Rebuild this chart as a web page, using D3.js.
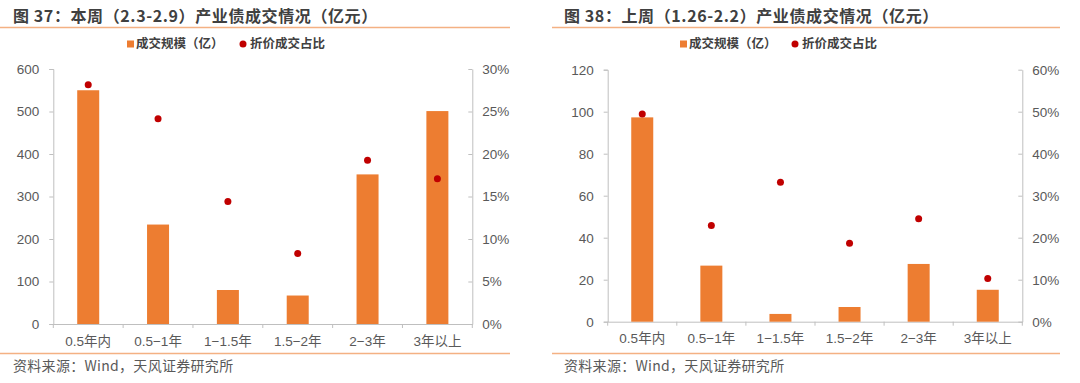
<!DOCTYPE html>
<html><head><meta charset="utf-8">
<script src="https://cdn.jsdelivr.net/npm/d3@7/dist/d3.min.js"></script>
<style>
html,body{margin:0;padding:0;background:#fff;}
svg{display:block;}
text{font-family:"Liberation Sans","Noto Sans CJK SC",sans-serif;}
</style></head>
<body>
<svg id="c" width="1080" height="383"></svg>
<script>
const categories = ["0.5年内","0.5−1年","1−1.5年","1.5−2年","2−3年","3年以上"];

const titleA = "图 37：本周（2.3-2.9）产业债成交情况（亿元）";
const volumeA = [550, 234, 80, 67, 352, 501];
const discountA = [0.2815, 0.2415, 0.144, 0.083, 0.1926, 0.171];
const leftTicksA = [0,100,200,300,400,500,600];
const rightTicksA = [0,0.05,0.10,0.15,0.20,0.25,0.30];

const titleB = "图 38：上周（1.26-2.2）产业债成交情况（亿元）";
const volumeB = [97.3, 26.7, 3.7, 7.0, 27.5, 15.2];
const discountB = [0.4945, 0.229, 0.332, 0.187, 0.245, 0.103];
const leftTicksB = [0,20,40,60,80,100,120];
const rightTicksB = [0,0.10,0.20,0.30,0.40,0.50,0.60];

const legendNames = ["成交规模（亿）","折价成交占比"];
const sourceText = "资料来源：Wind，天风证券研究所";

const svg = d3.select("#c");
const BAR = "#ED7D31", DOT = "#C00000", AXIS = "#BFBFBF", TXT = "#595959";

function drawPanel(o){
  const g = svg.append("g");
  // title
  g.append("text").attr("x", o.titleX).attr("y", 22)
    .attr("font-size", 16).attr("font-weight", "bold").attr("fill", "#404040")
    .attr("letter-spacing", 0.6)
    .style("font-family", "'Noto Sans CJK SC',sans-serif")
    .text(o.title);
  g.append("line").attr("x1", o.lineX1).attr("x2", o.lineX2).attr("y1", 27.5).attr("y2", 27.5)
    .attr("stroke", "#F4B183").attr("stroke-width", 1.5);
  // legend
  const lg = g.append("g").attr("transform", `translate(${o.legX},44)`)
    .style("font-family", "'Noto Sans CJK SC',sans-serif");
  lg.append("rect").attr("x", 0).attr("y", -3.5).attr("width", 7).attr("height", 7).attr("fill", BAR);
  lg.append("text").attr("x", 9).attr("y", 0).attr("dy", "0.35em").attr("font-size", 12.5)
    .attr("font-weight", "bold").attr("fill", "#404040").text(legendNames[0]);
  lg.append("circle").attr("cx", o.legDotDx).attr("cy", 0).attr("r", 3.5).attr("fill", DOT);
  lg.append("text").attr("x", o.legDotDx + 7).attr("y", 0).attr("dy", "0.35em").attr("font-size", 12.5)
    .attr("font-weight", "bold").attr("fill", "#404040").text(legendNames[1]);

  const x = d3.scaleBand().domain(categories).range([o.x0, o.x1]).paddingInner(0).paddingOuter(0);
  const yL = d3.scaleLinear().domain([0, o.leftTicks[o.leftTicks.length-1]]).range([o.yBase, o.yTop]);
  const yR = d3.scaleLinear().domain([0, o.rightTicks[o.rightTicks.length-1]]).range([o.yBase, o.yTop]);

  // left axis
  const ax = g.append("g").attr("transform", `translate(${o.x0},0)`)
    .call(d3.axisLeft(yL).tickValues(o.leftTicks).tickSize(4).tickPadding(10).tickFormat(d3.format("d")));
  const ar = g.append("g").attr("transform", `translate(${o.x1},0)`)
    .call(d3.axisRight(yR).tickValues(o.rightTicks).tickSize(0).tickPadding(10).tickFormat(d3.format(".0%")));
  ar.selectAll(".tick").append("line").attr("x1", -4).attr("x2", 0).attr("stroke", AXIS);
  // x axis
  const xb = g.append("g").attr("transform", `translate(0,${o.yBase})`)
    .call(d3.axisBottom(x).tickSize(0).tickPadding(12));
  const bounds = [o.x0].concat(categories.map(c => x(c) + x.bandwidth()));
  xb.selectAll(".bt").data(bounds).enter().append("line").attr("class","bt")
    .attr("x1", d => d).attr("x2", d => d).attr("y1", 0).attr("y2", 4).attr("stroke", AXIS);

  [ax, ar, xb].forEach(a => {
    a.selectAll(".domain").attr("stroke", AXIS);
    a.selectAll(".tick line").attr("stroke", AXIS);
    a.selectAll(".tick text").attr("fill", TXT).attr("font-size", 13.5);
  });
  xb.selectAll(".tick text").style("font-family", "'Liberation Sans','Noto Sans CJK SC',sans-serif");

  // bars
  const bw = 22;
  g.append("g").selectAll("rect").data(o.volume).enter().append("rect")
    .attr("x", (d,i) => x(categories[i]) + x.bandwidth()/2 - bw/2)
    .attr("y", d => yL(d)).attr("width", bw).attr("height", d => o.yBase - yL(d))
    .attr("fill", BAR);
  // dots
  g.append("g").selectAll("circle").data(o.discount).enter().append("circle")
    .attr("cx", (d,i) => x(categories[i]) + x.bandwidth()/2)
    .attr("cy", d => yR(d)).attr("r", 3.5).attr("fill", DOT);

  // footer
  g.append("line").attr("x1", o.lineX1).attr("x2", o.lineX2).attr("y1", 353.5).attr("y2", 353.5)
    .attr("stroke", "#F4B183").attr("stroke-width", 1.5);
  g.append("text").attr("x", o.titleX).attr("y", 371).attr("font-size", 14).attr("fill", TXT)
    .attr("letter-spacing", 0.3)
    .style("font-family", "'Noto Sans CJK SC',sans-serif").text(sourceText);
}

drawPanel({title: titleA, titleX: 13, lineX1: 0, lineX2: 510, legX: 127, legDotDx: 116,
  x0: 53.3, x1: 472.3, yBase: 324, yTop: 69, volume: volumeA, discount: discountA,
  leftTicks: leftTicksA, rightTicks: rightTicksA});
drawPanel({title: titleB, titleX: 564, lineX1: 552, lineX2: 1060, legX: 680, legDotDx: 115,
  x0: 607.7, x1: 1022.3, yBase: 321.7, yTop: 69.7, volume: volumeB, discount: discountB,
  leftTicks: leftTicksB, rightTicks: rightTicksB});
</script>
</body></html>
